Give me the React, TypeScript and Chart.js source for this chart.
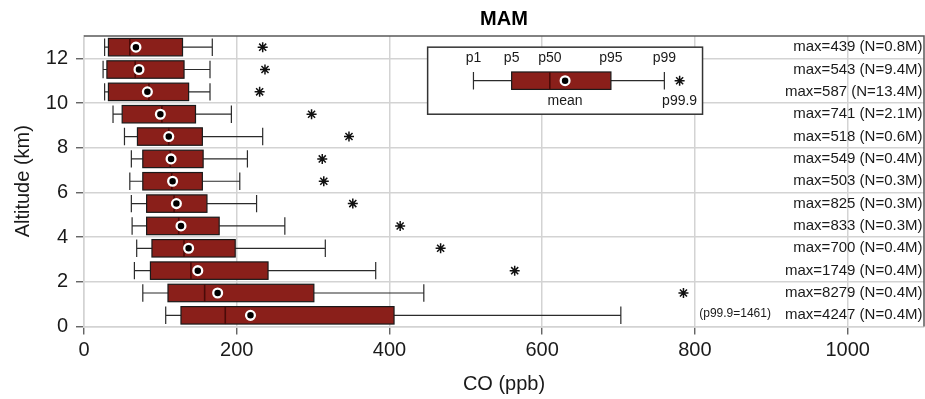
import React, { useEffect, useRef } from 'react';
import { Chart, registerables } from 'chart.js';

Chart.register(...registerables);

// Altitude bins (km), bottom to top
const altitudes = [0.5, 1.5, 2.5, 3.5, 4.5, 5.5, 6.5, 7.5, 8.5, 9.5, 10.5, 11.5, 12.5];

// CO percentiles (ppb) per altitude bin
const p1 = [107, 77, 66, 69, 63, 62, 60, 62, 53, 38, 27, 25, 27];
const p5 = [127, 110, 87, 89, 82, 82, 77, 77, 70, 50, 32, 30, 32];
const p50 = [185, 158, 140, 131, 124, 118, 115, 113, 111, 102, 85, 67, 60];
const means = [218, 175, 149, 137, 127, 121, 116, 114, 111, 100, 83, 72, 68];
const p95 = [406, 301, 241, 198, 177, 161, 155, 156, 155, 146, 137, 131, 129];
const p99 = [703, 445, 382, 316, 263, 226, 204, 214, 234, 193, 165, 165, 168];
const p999 = [1461, 785, 564, 467, 414, 352, 314, 312, 347, 298, 230, 237, 234];
const maxValues = [4247, 8279, 1749, 700, 833, 825, 503, 549, 518, 741, 587, 543, 439];
const sampleSizes = ['0.4M', '0.4M', '0.4M', '0.4M', '0.3M', '0.3M', '0.3M', '0.4M', '0.6M', '2.1M', '13.4M', '9.4M', '0.8M'];

const xTicks = [0, 200, 400, 600, 800, 1000];
const yTicks = [0, 2, 4, 6, 8, 10, 12];

// Example box in the key
const keyLabels = ['p1', 'p5', 'p50', 'p95', 'p99'];
const keyValues = [510, 560, 610, 690, 760];
const keyMean = 630;
const keyOutlier = 780;

const X_MAX = 1100;
const Y_MAX = 13;

// styling
const FONT = "'Liberation Sans', Arial, Helvetica, sans-serif";
const gridColor = '#d3d3d3';
const frameColor = '#5a5a5a';
const inkColor = '#1a1a1a';
const boxFill = '#8a1f1a';
const medianColor = '#4a0b08';
const BOX_HALF = 0.39;
// key placement in axis units
const KEY_LEFT = 450;
const KEY_RIGHT = 810;
const KEY_TOP = 12.5;
const KEY_BOTTOM = 9.5;
const KEY_ROW = 11;
const KEY_UPPER_TEXT = 12.02;
const KEY_LOWER_TEXT = 10.08;

function drawBoxWhisker(chart: any, yc: number, lo: number, q1: number, med: number, q3: number, hi: number) {
  const { ctx } = chart;
  const x = chart.scales.x;
  const y = chart.scales.y;
  const top = y.getPixelForValue(yc + BOX_HALF);
  const bot = y.getPixelForValue(yc - BOX_HALF);
  const mid = y.getPixelForValue(yc);
  const xl = x.getPixelForValue(lo);
  const xq1 = x.getPixelForValue(q1);
  const xm = x.getPixelForValue(med);
  const xq3 = x.getPixelForValue(q3);
  const xh = x.getPixelForValue(hi);

  ctx.strokeStyle = '#2b2b2b';
  ctx.lineWidth = 1.2;
  ctx.beginPath();
  ctx.moveTo(xl, mid);
  ctx.lineTo(xq1, mid);
  ctx.moveTo(xq3, mid);
  ctx.lineTo(xh, mid);
  ctx.moveTo(xl, top);
  ctx.lineTo(xl, bot);
  ctx.moveTo(xh, top);
  ctx.lineTo(xh, bot);
  ctx.stroke();

  ctx.fillStyle = boxFill;
  ctx.fillRect(xq1, top, xq3 - xq1, bot - top);
  ctx.strokeStyle = '#1a1a1a';
  ctx.lineWidth = 1.2;
  ctx.strokeRect(xq1, top, xq3 - xq1, bot - top);

  ctx.strokeStyle = medianColor;
  ctx.lineWidth = 1.6;
  ctx.beginPath();
  ctx.moveTo(xm, top);
  ctx.lineTo(xm, bot);
  ctx.stroke();
}

const boxPlotPlugin = {
  id: 'boxPlot',
  beforeDatasetsDraw(chart: any) {
    const { ctx } = chart;
    const x = chart.scales.x;
    const y = chart.scales.y;
    ctx.save();
    altitudes.forEach((alt, i) => {
      drawBoxWhisker(chart, alt, p1[i], p5[i], p50[i], p95[i], p99[i]);
    });

    // key
    const kl = x.getPixelForValue(KEY_LEFT);
    const kr = x.getPixelForValue(KEY_RIGHT);
    const kt = y.getPixelForValue(KEY_TOP);
    const kb = y.getPixelForValue(KEY_BOTTOM);
    ctx.fillStyle = '#ffffff';
    ctx.fillRect(kl, kt, kr - kl, kb - kt);
    ctx.strokeStyle = '#333333';
    ctx.lineWidth = 1.5;
    ctx.strokeRect(kl, kt, kr - kl, kb - kt);

    drawBoxWhisker(chart, KEY_ROW, keyValues[0], keyValues[1], keyValues[2], keyValues[3], keyValues[4]);

    ctx.fillStyle = inkColor;
    ctx.font = `14px ${FONT}`;
    ctx.textAlign = 'center';
    ctx.textBaseline = 'middle';
    const upper = y.getPixelForValue(KEY_UPPER_TEXT);
    const lower = y.getPixelForValue(KEY_LOWER_TEXT);
    keyLabels.forEach((lab, i) => {
      ctx.fillText(lab, x.getPixelForValue(keyValues[i]), upper);
    });
    ctx.fillText('mean', x.getPixelForValue(keyMean), lower);
    ctx.fillText('p99.9', x.getPixelForValue(keyOutlier), lower);
    ctx.restore();
  },
  afterDraw(chart: any) {
    const { ctx, chartArea } = chart;
    const y = chart.scales.y;
    const x = chart.scales.x;
    ctx.save();

    // top and right frame
    ctx.strokeStyle = frameColor;
    ctx.lineWidth = 1.5;
    ctx.beginPath();
    ctx.moveTo(chartArea.left, chartArea.top);
    ctx.lineTo(chartArea.right, chartArea.top);
    ctx.lineTo(chartArea.right, chartArea.bottom);
    ctx.stroke();

    // title
    ctx.fillStyle = '#000';
    ctx.font = `bold 20px ${FONT}`;
    ctx.textAlign = 'center';
    ctx.textBaseline = 'middle';
    ctx.fillText('MAM', (chartArea.left + chartArea.right) / 2, 19);

    // per-bin maximum and sample size
    ctx.fillStyle = inkColor;
    ctx.textAlign = 'right';
    const textRight = chartArea.right - 1.5;
    altitudes.forEach((alt, i) => {
      const label = `max=${maxValues[i]} (N=${sampleSizes[i]})`;
      const py = y.getPixelForValue(alt);
      ctx.font = `15px ${FONT}`;
      ctx.fillText(label, textRight, py);
      if (p999[i] > x.max) {
        const w = ctx.measureText(label).width;
        ctx.font = `12px ${FONT}`;
        ctx.fillText(`(p99.9=${p999[i]})`, textRight - w - 14, py - 2);
      }
    });
    ctx.restore();
  },
};

const meanStyle = {
  pointStyle: 'circle',
  pointRadius: 4.4,
  pointBackgroundColor: '#000000',
  pointBorderColor: '#ffffff',
  pointBorderWidth: 2.3,
};

const outlierStyle = {
  pointStyle: 'star',
  pointRadius: 5,
  pointBackgroundColor: 'rgba(0,0,0,0)',
  pointBorderColor: '#111111',
  pointBorderWidth: 1.5,
};

export default function App() {
  const canvasRef = useRef<HTMLCanvasElement | null>(null);

  useEffect(() => {
    if (!canvasRef.current) return;
    Chart.defaults.font.family = FONT;
    const chart = new Chart(canvasRef.current, {
      type: 'scatter',
      data: {
        datasets: [
          { label: 'mean', data: altitudes.map((a, i) => ({ x: means[i], y: a })), ...meanStyle } as any,
          { label: 'p99.9', data: altitudes.map((a, i) => ({ x: p999[i], y: a })), ...outlierStyle } as any,
          { label: 'key mean', data: [{ x: keyMean, y: KEY_ROW }], ...meanStyle } as any,
          { label: 'key p99.9', data: [{ x: keyOutlier, y: KEY_ROW }], ...outlierStyle } as any,
        ],
      },
      options: {
        animation: false,
        responsive: false,
        events: [],
        layout: { autoPadding: false, padding: { top: 36, right: 1, left: 0, bottom: 0 } },
        plugins: {
          legend: { display: false },
          tooltip: { enabled: false },
          title: { display: false },
        },
        scales: {
          x: {
            type: 'linear',
            min: 0,
            max: X_MAX,
            afterBuildTicks: (s: any) => {
              s.ticks = xTicks.map((v) => ({ value: v }));
            },
            afterFit: (s: any) => {
              s.height = 72.5;
              s.paddingLeft = 0;
              s.paddingRight = 0;
            },
            grid: { color: gridColor, lineWidth: 1.5, tickColor: '#555555', tickLength: 8, tickWidth: 1.3 },
            border: { color: gridColor, width: 1.5 },
            ticks: {
              font: { size: 20 },
              color: inkColor,
              padding: 4,
              maxRotation: 0,
              autoSkip: false,
              callback: (v: any) => String(v),
            },
            title: {
              display: true,
              text: 'CO (ppb)',
              font: { size: 20 },
              color: inkColor,
              padding: { top: 0, bottom: 3 },
            },
          },
          y: {
            type: 'linear',
            min: 0,
            max: Y_MAX,
            afterBuildTicks: (s: any) => {
              s.ticks = yTicks.map((v) => ({ value: v }));
            },
            afterFit: (s: any) => {
              s.width = 84;
              s.paddingTop = 0;
              s.paddingBottom = 0;
            },
            grid: { color: gridColor, lineWidth: 1.5, tickColor: '#555555', tickLength: 8, tickWidth: 1.3 },
            border: { color: gridColor, width: 1.5 },
            ticks: {
              font: { size: 20 },
              color: inkColor,
              padding: 8,
              autoSkip: false,
              callback: (v: any) => String(v),
            },
            title: {
              display: true,
              text: 'Altitude (km)',
              font: { size: 20 },
              color: inkColor,
              padding: { top: 11, bottom: 0 },
            },
          },
        },
      } as any,
      plugins: [boxPlotPlugin],
    });
    return () => chart.destroy();
  }, []);

  return (
    <div style={{ position: 'fixed', left: 0, top: 0, width: 925, height: 399, background: '#fff' }}>
      <canvas ref={canvasRef} width={925} height={399} style={{ display: 'block', width: 925, height: 399 }} />
    </div>
  );
}
